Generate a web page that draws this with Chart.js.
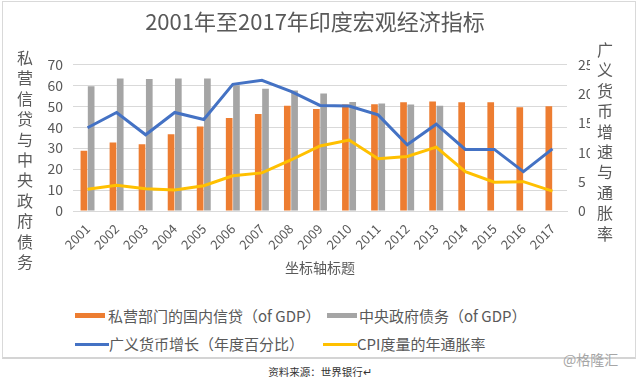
<!DOCTYPE html>
<html>
<head>
<meta charset="utf-8">
<script src="https://cdn.jsdelivr.net/npm/chart.js@4.4.1/dist/chart.umd.min.js"></script>
<style>
  html, body { margin: 0; padding: 0; background: #fff; }
  #wrap { position: relative; width: 640px; height: 381px; overflow: hidden; background: #fff;
          font-family: "Noto Sans CJK SC", "Noto Sans", sans-serif; color: #595959; }
  #frame { position: absolute; left: 2px; top: 1px; width: 634px; height: 358px;
           border: 1px solid #d9d9d9; border-bottom: 2px solid #d4d4d4; box-sizing: border-box; }
  canvas { position: absolute; left: 0; top: 0; }
  .vt { position: absolute; width: 20px; text-align: center; font-size: 16px; line-height: 20.4px; color: #595959; }
  .lg { position: absolute; font-size: 15px; line-height: 18px; white-space: nowrap; color: #595959; }
  .sw { position: absolute; }
  #src { position: absolute; left: 0; width: 640px; top: 364px; text-align: center; font-size: 10.5px; color: #333; }
  #wm { position: absolute; left: 563px; top: 349px; font-size: 14px; color: #a6a6a6; }
</style>
</head>
<body>
<div id="wrap">
  <div id="frame"></div>
  <canvas id="c" width="640" height="290"></canvas>
  <div id="ltitle" class="vt" style="left:15px; top:47px;"></div>
  <div id="rtitle" class="vt" style="left:595px; top:39px;"></div>
  <div id="legend"></div>
  <div id="src">资料来源：世界银行↵</div>
  <div id="wm">@格隆汇</div>
</div>
<script>
const years = ['2001','2002','2003','2004','2005','2006','2007','2008','2009','2010','2011','2012','2013','2014','2015','2016','2017'];
const privateCredit = [28.8, 32.7, 31.9, 36.7, 40.4, 44.4, 46.3, 50.3, 48.7, 50.8, 51.0, 51.9, 52.3, 51.9, 51.9, 49.5, 50.0];
const govDebt = [59.6, 63.3, 63.0, 63.3, 63.3, 60.0, 58.4, 57.5, 56.1, 52.1, 51.3, 50.8, 50.3, null, null, null, null];
const broadMoney = [14.2, 16.8, 13.0, 16.8, 15.6, 21.6, 22.3, 20.4, 18.0, 17.9, 16.4, 11.3, 14.8, 10.5, 10.5, 6.7, 10.6];
const cpi = [3.7, 4.4, 3.8, 3.6, 4.3, 6.0, 6.5, 8.7, 11.1, 12.1, 8.9, 9.3, 10.9, 6.7, 4.9, 5.0, 3.4];
const seriesNames = ['私营部门的国内信贷（of GDP）', '中央政府债务（of GDP）', '广义货币增长（年度百分比）', 'CPI度量的年通胀率'];
const seriesColors = ['#ED7D31', '#A5A5A5', '#4472C4', '#FFC000'];
const titleText = '2001年至2017年印度宏观经济指标';
const leftTitle = '私营信贷与中央政府债务';
const rightTitle = '广义货币增速与通胀率';
const xTitle = '坐标轴标题';

document.getElementById('ltitle').innerHTML = leftTitle.split('').join('<br>');
document.getElementById('rtitle').innerHTML = rightTitle.split('').join('<br>');

// legend (HTML, Excel-style two columns)
const lg = document.getElementById('legend');
const legendPos = [
  {sx: 75, sy: 313, sw: 30, sh: 5, tx: 108, ty: 307},
  {sx: 327, sy: 313, sw: 30, sh: 5, tx: 359, ty: 307},
  {sx: 75, sy: 343, sw: 34, sh: 3, tx: 109, ty: 335},
  {sx: 323, sy: 343, sw: 34, sh: 3, tx: 357, ty: 335}
];
seriesNames.forEach((n, i) => {
  const p = legendPos[i];
  const s = document.createElement('div');
  s.className = 'sw';
  s.style.cssText = `left:${p.sx}px;top:${p.sy}px;width:${p.sw}px;height:${p.sh}px;background:${seriesColors[i]};`;
  lg.appendChild(s);
  const t = document.createElement('div');
  t.className = 'lg';
  t.style.cssText = `left:${p.tx}px;top:${p.ty}px;`;
  t.textContent = n;
  lg.appendChild(t);
});

const font = "'Noto Sans CJK SC', 'Noto Sans', sans-serif";
new Chart(document.getElementById('c'), {
  data: {
    labels: years,
    datasets: [
      {type: 'line', label: seriesNames[2], data: broadMoney, yAxisID: 'y1', borderColor: seriesColors[2], backgroundColor: seriesColors[2], borderWidth: 3, pointRadius: 0, tension: 0, order: 0},
      {type: 'line', label: seriesNames[3], data: cpi, yAxisID: 'y1', borderColor: seriesColors[3], backgroundColor: seriesColors[3], borderWidth: 3, pointRadius: 0, tension: 0, order: 0},
      {type: 'bar', label: seriesNames[0], data: privateCredit, yAxisID: 'y', backgroundColor: seriesColors[0], categoryPercentage: 0.5, barPercentage: 0.92, order: 1},
      {type: 'bar', label: seriesNames[1], data: govDebt, yAxisID: 'y', backgroundColor: seriesColors[1], categoryPercentage: 0.5, barPercentage: 0.92, order: 1}
    ]
  },
  options: {
    responsive: false,
    animation: false,
    layout: {padding: {left: 40, right: 50, top: 8, bottom: 10}},
    plugins: {
      legend: {display: false},
      tooltip: {enabled: false},
      title: {display: true, text: titleText, color: '#595959', font: {family: font, size: 22, weight: 'normal'}, padding: {top: 0, bottom: 30}}
    },
    scales: {
      x: {
        grid: {display: false},
        border: {display: true, color: '#d9d9d9'},
        ticks: {color: '#595959', font: {family: font, size: 13}, minRotation: 45, maxRotation: 45, autoSkip: false, padding: 2},
        title: {display: true, text: xTitle, color: '#595959', font: {family: font, size: 14}, padding: {top: 2, bottom: 4}},
        afterFit: s => { s.height = 69; }
      },
      y: {
        position: 'left', min: 0, max: 70,
        grid: {color: '#d9d9d9', drawTicks: false},
        border: {display: false},
        ticks: {stepSize: 10, color: '#595959', font: {family: font, size: 14}, padding: 10},
        afterFit: s => { s.width = 33; }
      },
      y1: {
        position: 'right', min: 0, max: 25,
        grid: {display: false, drawTicks: false},
        border: {display: false},
        ticks: {stepSize: 5, color: '#595959', font: {family: font, size: 14}, padding: 11},
        afterFit: s => { s.width = 23; }
      }
    }
  }
});
</script>
</body>
</html>
